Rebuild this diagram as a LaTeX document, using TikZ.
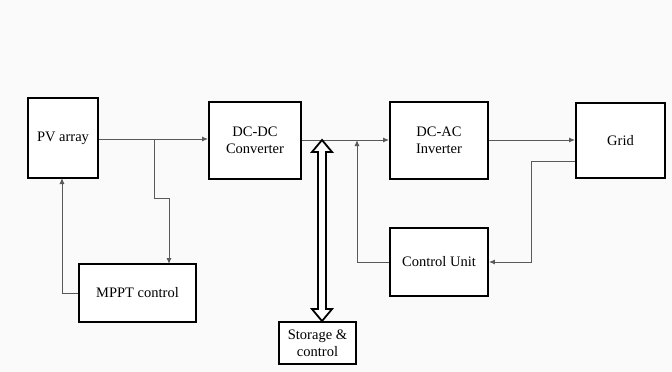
\documentclass[tikz,border=0pt]{standalone}
\usepackage{fontspec}
\setmainfont{Liberation Serif}
\usetikzlibrary{arrows.meta,positioning,calc}
\begin{document}
\begin{tikzpicture}[x=1pt,y=-1pt,
  blk/.style={draw=black,line width=1.9pt,fill=white,inner sep=0pt,align=center,font=\fontsize{14.5}{17}\selectfont},
  conn/.style={draw=black!65,line width=1pt},
  arr/.style={conn,-{Latex[length=6pt,width=5pt]}}]
\fill[black!2] (0,0) rectangle (672,372);
\useasboundingbox (0,0) rectangle (672,372);
\node[blk,minimum width=70pt,minimum height=80pt] (pv) at (63,138) {PV array};
\node[blk,minimum width=92pt,minimum height=77pt] (dcdc) at (255,140.5) {DC-DC\\Converter};
\node[blk,minimum width=98pt,minimum height=77pt] (dcac) at (439,140.5) {DC-AC\\Inverter};
\node[blk,minimum width=89pt,minimum height=75pt] (grid) at (620.5,140.5) {Grid};
\node[blk,minimum width=117pt,minimum height=58pt] (mppt) at (137.5,293) {MPPT control};
\node[blk,minimum width=98pt,minimum height=68pt] (cu) at (439,262) {Control Unit};
\node[blk,minimum width=77pt,minimum height=42pt] (st) at (317.5,343) {Storage \&\\control};
% PV -> DC-DC with branch to MPPT
\coordinate (b1) at (154,139);
\draw[arr] (pv.east |- b1) -- (dcdc.west |- b1);
\draw[arr] (b1) -- (154,198) -- (169,198) -- (169,264);
% MPPT -> PV
\draw[arr] (mppt.west |- 0,293) -- (62,293) -- (62,178);
% DC-DC -> DC-AC
\coordinate (b2) at (357,140);
\draw[arr] (dcdc.east |- b2) -- (dcac.west |- b2);
% Control unit -> junction
\draw[arr] (cu.west) -- (357,262) -- (b2);
% DC-AC -> Grid
\draw[arr] (dcac.east |- b2) -- (grid.west |- b2);
% Grid -> control unit
\draw[arr] (grid.west |- 0,161) -- (531,161) -- (531,262) -- (cu.east);
% double arrow storage
\coordinate (tt) at (322,140);
\coordinate (bt) at (st.north -| tt);
\draw[line width=1.8pt,fill=white,line join=miter]
  (tt) -- ($(tt)+(10,12)$) -- ($(tt)+(4,12)$) -- ($(bt)+(4,-12)$) -- ($(bt)+(10,-12)$) -- (bt)
  -- ($(bt)+(-10,-12)$) -- ($(bt)+(-4,-12)$) -- ($(tt)+(-4,12)$) -- ($(tt)+(-10,12)$) -- cycle;
\end{tikzpicture}
\end{document}
